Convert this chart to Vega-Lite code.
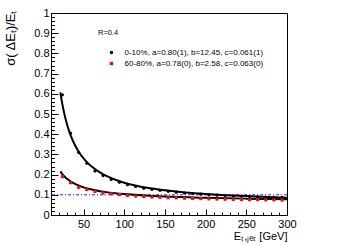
{
  "$schema": "https://vega.github.io/schema/vega-lite/v6.json",
  "width": 236,
  "height": 202,
  "autosize": "none",
  "padding": {"left": 51, "top": 13, "right": 51, "bottom": 30},
  "background": "white",
  "config": {
    "view": {"stroke": "black", "strokeWidth": 1},
    "font": "Liberation Sans",
    "axis": {"domainColor": "black", "tickColor": "black", "labelColor": "black", "titleColor": "black", "grid": false, "labelFont": "Liberation Sans", "titleFont": "Liberation Sans", "titleFontWeight": "normal", "labelFlush": false}
  },
  "datasets": {
    "curves": [
      {"series": "0-10%", "x": 21.5, "y": 0.607},
      {"series": "0-10%", "x": 23, "y": 0.570},
      {"series": "0-10%", "x": 25, "y": 0.527},
      {"series": "0-10%", "x": 27.5, "y": 0.482},
      {"series": "0-10%", "x": 30, "y": 0.444},
      {"series": "0-10%", "x": 32.5, "y": 0.4125},
      {"series": "0-10%", "x": 35, "y": 0.385},
      {"series": "0-10%", "x": 40, "y": 0.3415},
      {"series": "0-10%", "x": 45, "y": 0.307},
      {"series": "0-10%", "x": 50, "y": 0.280},
      {"series": "0-10%", "x": 55, "y": 0.258},
      {"series": "0-10%", "x": 60, "y": 0.240},
      {"series": "0-10%", "x": 70, "y": 0.211},
      {"series": "0-10%", "x": 80, "y": 0.190},
      {"series": "0-10%", "x": 90, "y": 0.173},
      {"series": "0-10%", "x": 100, "y": 0.160},
      {"series": "0-10%", "x": 115, "y": 0.145},
      {"series": "0-10%", "x": 130, "y": 0.1335},
      {"series": "0-10%", "x": 150, "y": 0.122},
      {"series": "0-10%", "x": 175, "y": 0.1115},
      {"series": "0-10%", "x": 200, "y": 0.104},
      {"series": "0-10%", "x": 225, "y": 0.098},
      {"series": "0-10%", "x": 250, "y": 0.0935},
      {"series": "0-10%", "x": 275, "y": 0.0895},
      {"series": "0-10%", "x": 300, "y": 0.086},
      {"series": "60-80%", "x": 21.5, "y": 0.216},
      {"series": "60-80%", "x": 23, "y": 0.207},
      {"series": "60-80%", "x": 25, "y": 0.197},
      {"series": "60-80%", "x": 27.5, "y": 0.187},
      {"series": "60-80%", "x": 30, "y": 0.178},
      {"series": "60-80%", "x": 35, "y": 0.164},
      {"series": "60-80%", "x": 40, "y": 0.153},
      {"series": "60-80%", "x": 50, "y": 0.137},
      {"series": "60-80%", "x": 60, "y": 0.126},
      {"series": "60-80%", "x": 70, "y": 0.118},
      {"series": "60-80%", "x": 80, "y": 0.112},
      {"series": "60-80%", "x": 100, "y": 0.1035},
      {"series": "60-80%", "x": 120, "y": 0.0975},
      {"series": "60-80%", "x": 150, "y": 0.091},
      {"series": "60-80%", "x": 200, "y": 0.085},
      {"series": "60-80%", "x": 250, "y": 0.081},
      {"series": "60-80%", "x": 300, "y": 0.078}
    ],
    "points": [
      {"series": "0-10%, a=0.80(1), b=12.45, c=0.061(1)", "x": 24, "y": 0.595},
      {"series": "0-10%, a=0.80(1), b=12.45, c=0.061(1)", "x": 34, "y": 0.405},
      {"series": "0-10%, a=0.80(1), b=12.45, c=0.061(1)", "x": 44, "y": 0.310},
      {"series": "0-10%, a=0.80(1), b=12.45, c=0.061(1)", "x": 54, "y": 0.256},
      {"series": "0-10%, a=0.80(1), b=12.45, c=0.061(1)", "x": 64, "y": 0.218},
      {"series": "0-10%, a=0.80(1), b=12.45, c=0.061(1)", "x": 74, "y": 0.195},
      {"series": "0-10%, a=0.80(1), b=12.45, c=0.061(1)", "x": 84, "y": 0.176},
      {"series": "0-10%, a=0.80(1), b=12.45, c=0.061(1)", "x": 94, "y": 0.162},
      {"series": "0-10%, a=0.80(1), b=12.45, c=0.061(1)", "x": 104, "y": 0.150},
      {"series": "0-10%, a=0.80(1), b=12.45, c=0.061(1)", "x": 114, "y": 0.141},
      {"series": "0-10%, a=0.80(1), b=12.45, c=0.061(1)", "x": 124, "y": 0.133},
      {"series": "0-10%, a=0.80(1), b=12.45, c=0.061(1)", "x": 134, "y": 0.127},
      {"series": "0-10%, a=0.80(1), b=12.45, c=0.061(1)", "x": 144, "y": 0.122},
      {"series": "0-10%, a=0.80(1), b=12.45, c=0.061(1)", "x": 154, "y": 0.117},
      {"series": "0-10%, a=0.80(1), b=12.45, c=0.061(1)", "x": 164, "y": 0.113},
      {"series": "0-10%, a=0.80(1), b=12.45, c=0.061(1)", "x": 174, "y": 0.109},
      {"series": "0-10%, a=0.80(1), b=12.45, c=0.061(1)", "x": 184, "y": 0.106},
      {"series": "0-10%, a=0.80(1), b=12.45, c=0.061(1)", "x": 194, "y": 0.103},
      {"series": "0-10%, a=0.80(1), b=12.45, c=0.061(1)", "x": 204, "y": 0.100},
      {"series": "0-10%, a=0.80(1), b=12.45, c=0.061(1)", "x": 214, "y": 0.098},
      {"series": "0-10%, a=0.80(1), b=12.45, c=0.061(1)", "x": 224, "y": 0.096},
      {"series": "0-10%, a=0.80(1), b=12.45, c=0.061(1)", "x": 234, "y": 0.094},
      {"series": "0-10%, a=0.80(1), b=12.45, c=0.061(1)", "x": 244, "y": 0.093},
      {"series": "0-10%, a=0.80(1), b=12.45, c=0.061(1)", "x": 254, "y": 0.091},
      {"series": "0-10%, a=0.80(1), b=12.45, c=0.061(1)", "x": 264, "y": 0.090},
      {"series": "0-10%, a=0.80(1), b=12.45, c=0.061(1)", "x": 274, "y": 0.089},
      {"series": "0-10%, a=0.80(1), b=12.45, c=0.061(1)", "x": 284, "y": 0.088},
      {"series": "0-10%, a=0.80(1), b=12.45, c=0.061(1)", "x": 294, "y": 0.087},
      {"series": "60-80%, a=0.78(0), b=2.58, c=0.063(0)", "x": 24, "y": 0.190},
      {"series": "60-80%, a=0.78(0), b=2.58, c=0.063(0)", "x": 34, "y": 0.160},
      {"series": "60-80%, a=0.78(0), b=2.58, c=0.063(0)", "x": 44, "y": 0.137},
      {"series": "60-80%, a=0.78(0), b=2.58, c=0.063(0)", "x": 54, "y": 0.126},
      {"series": "60-80%, a=0.78(0), b=2.58, c=0.063(0)", "x": 64, "y": 0.117},
      {"series": "60-80%, a=0.78(0), b=2.58, c=0.063(0)", "x": 74, "y": 0.109},
      {"series": "60-80%, a=0.78(0), b=2.58, c=0.063(0)", "x": 84, "y": 0.105},
      {"series": "60-80%, a=0.78(0), b=2.58, c=0.063(0)", "x": 94, "y": 0.101},
      {"series": "60-80%, a=0.78(0), b=2.58, c=0.063(0)", "x": 104, "y": 0.097},
      {"series": "60-80%, a=0.78(0), b=2.58, c=0.063(0)", "x": 114, "y": 0.094},
      {"series": "60-80%, a=0.78(0), b=2.58, c=0.063(0)", "x": 124, "y": 0.092},
      {"series": "60-80%, a=0.78(0), b=2.58, c=0.063(0)", "x": 134, "y": 0.089},
      {"series": "60-80%, a=0.78(0), b=2.58, c=0.063(0)", "x": 144, "y": 0.088},
      {"series": "60-80%, a=0.78(0), b=2.58, c=0.063(0)", "x": 154, "y": 0.086},
      {"series": "60-80%, a=0.78(0), b=2.58, c=0.063(0)", "x": 164, "y": 0.085},
      {"series": "60-80%, a=0.78(0), b=2.58, c=0.063(0)", "x": 174, "y": 0.083},
      {"series": "60-80%, a=0.78(0), b=2.58, c=0.063(0)", "x": 184, "y": 0.082},
      {"series": "60-80%, a=0.78(0), b=2.58, c=0.063(0)", "x": 194, "y": 0.081},
      {"series": "60-80%, a=0.78(0), b=2.58, c=0.063(0)", "x": 204, "y": 0.080},
      {"series": "60-80%, a=0.78(0), b=2.58, c=0.063(0)", "x": 214, "y": 0.079},
      {"series": "60-80%, a=0.78(0), b=2.58, c=0.063(0)", "x": 224, "y": 0.078},
      {"series": "60-80%, a=0.78(0), b=2.58, c=0.063(0)", "x": 234, "y": 0.077},
      {"series": "60-80%, a=0.78(0), b=2.58, c=0.063(0)", "x": 244, "y": 0.077},
      {"series": "60-80%, a=0.78(0), b=2.58, c=0.063(0)", "x": 254, "y": 0.076},
      {"series": "60-80%, a=0.78(0), b=2.58, c=0.063(0)", "x": 264, "y": 0.076},
      {"series": "60-80%, a=0.78(0), b=2.58, c=0.063(0)", "x": 274, "y": 0.075},
      {"series": "60-80%, a=0.78(0), b=2.58, c=0.063(0)", "x": 284, "y": 0.075},
      {"series": "60-80%, a=0.78(0), b=2.58, c=0.063(0)", "x": 294, "y": 0.074}
    ]
  },
  "layer": [
    {
      "data": {"values": [{}]},
      "mark": {"type": "rule", "color": "#2020ff", "strokeWidth": 1, "strokeDash": [3, 2, 1, 2]},
      "encoding": {
        "y": {
          "datum": 0.1,
          "type": "quantitative",
          "scale": {"domain": [0, 1], "nice": false},
          "axis": {"orient": "left", "values": [0,0.02,0.04,0.06,0.08,0.1,0.12,0.14,0.16,0.18,0.2,0.22,0.24,0.26,0.28,0.3,0.32,0.34,0.36,0.38,0.4,0.42,0.44,0.46,0.48,0.5,0.52,0.54,0.56,0.58,0.6,0.62,0.64,0.66,0.68,0.7,0.72,0.74,0.76,0.78,0.8,0.82,0.84,0.86,0.88,0.9,0.92,0.94,0.96,0.98,1], "tickSize": -3.5, "labels": false, "domain": false, "title": null}
        }
      }
    },
    {
      "data": {"name": "curves"},
      "mark": {"type": "line", "color": "black", "strokeWidth": 2, "interpolate": "monotone"},
      "encoding": {
        "x": {
          "field": "x", "type": "quantitative",
          "scale": {"domain": [10, 300], "nice": false, "zero": false},
          "axis": {"orient": "bottom", "values": [50, 100, 150, 200, 250, 300], "tickSize": -6, "labelPadding": 9.5, "labelFontSize": 11, "title": "Eₜ,ⱼₑₜ [GeV]", "titleFontSize": 11, "titleAlign": "right", "titleAnchor": "end", "titleX": 236, "titleY": 24, "titleBaseline": "alphabetic"}
        },
        "y": {
          "field": "y", "type": "quantitative",
          "scale": {"domain": [0, 1], "nice": false},
          "axis": {"orient": "left", "values": [0,0.1,0.2,0.3,0.4,0.5,0.6,0.7,0.8,0.9,1], "format": "~g", "tickSize": -7, "labelPadding": 9, "labelFontSize": 11, "title": "σ( ΔEₜ)/Eₜ", "titleFontSize": 13, "titleAngle": -90, "titleAlign": "right", "titleBaseline": "top", "titleX": -47, "titleY": -3}
        },
        "detail": {"field": "series"}
      }
    },
    {
      "data": {"name": "points"},
      "mark": {"type": "point", "filled": true, "size": 10, "opacity": 1, "strokeWidth": 0},
      "encoding": {
        "x": {
          "field": "x", "type": "quantitative",
          "axis": {"orient": "bottom", "values": [10,20,30,40,50,60,70,80,90,100,110,120,130,140,150,160,170,180,190,200,210,220,230,240,250,260,270,280,290,300], "tickSize": -3, "labels": false, "domain": false, "title": null}
        },
        "y": {"field": "y", "type": "quantitative", "axis": null},
        "color": {
          "field": "series", "type": "nominal",
          "scale": {"domain": ["0-10%, a=0.80(1), b=12.45, c=0.061(1)", "60-80%, a=0.78(0), b=2.58, c=0.063(0)"], "range": ["black", "#ee1010"]},
          "legend": {"title": "R=0.4", "titleFontSize": 7.5, "titleFontWeight": "normal", "titleFont": "Liberation Sans", "titleColor": "black", "titlePadding": 12, "orient": "none", "legendX": 47, "legendY": 16, "labelFontSize": 8, "labelFont": "Liberation Sans", "labelColor": "black", "symbolSize": 12, "symbolOffset": 9.5, "padding": 0, "rowPadding": 3, "labelOffset": 9, "labelLimit": 400, "symbolStrokeWidth": 0}
        },
        "shape": {
          "field": "series", "type": "nominal",
          "scale": {"domain": ["0-10%, a=0.80(1), b=12.45, c=0.061(1)", "60-80%, a=0.78(0), b=2.58, c=0.063(0)"], "range": ["circle", "square"]}
        }
      }
    }
  ],
  "resolve": {"axis": {"x": "independent", "y": "independent"}}
}
